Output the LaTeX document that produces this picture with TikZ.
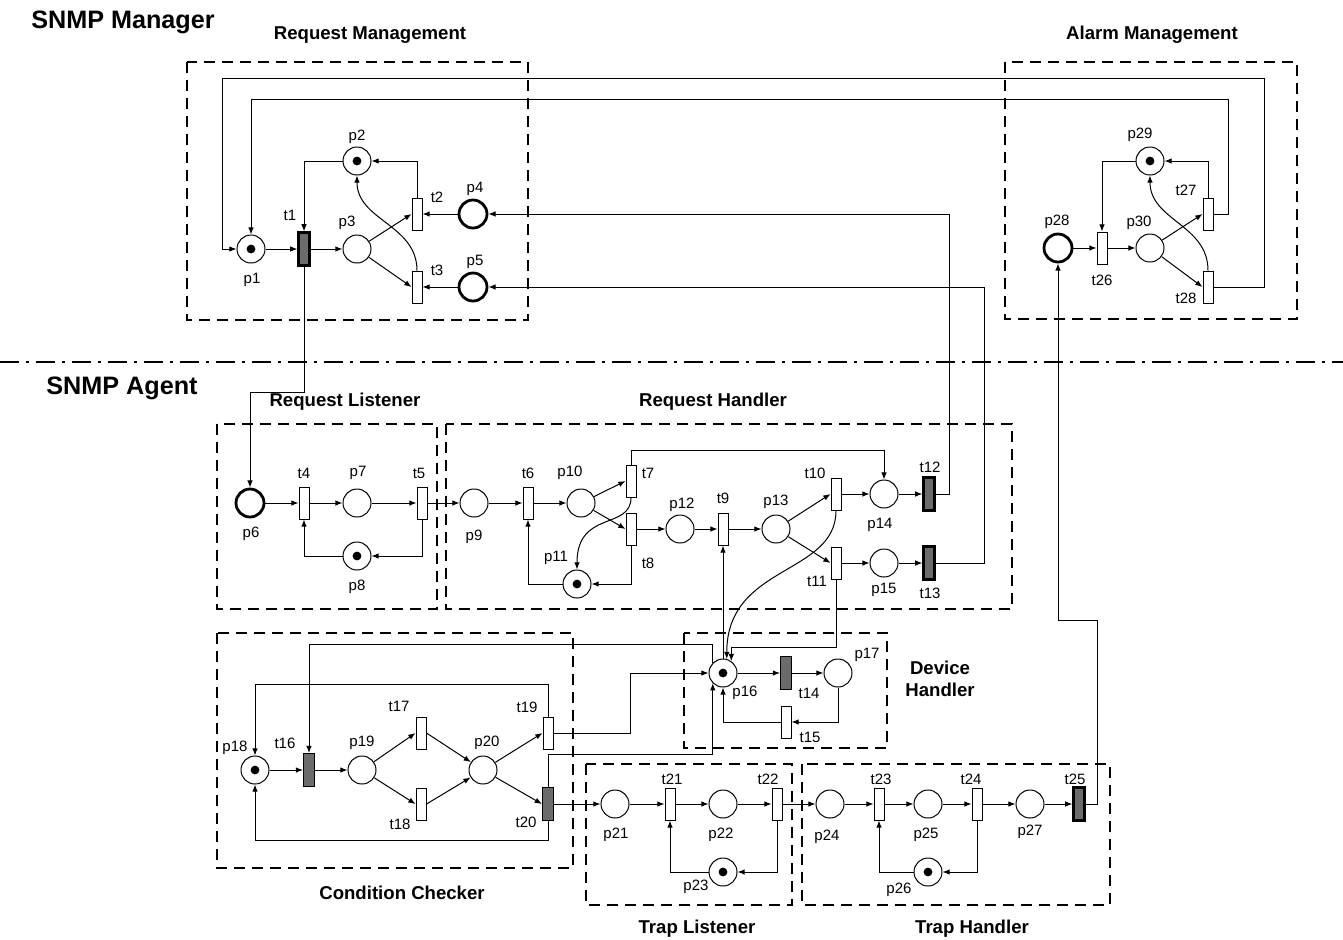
\documentclass[tikz,border=0pt]{standalone}
\usepackage{fontspec}
\setmainfont{Liberation Sans}
\usetikzlibrary{arrows.meta,positioning,calc}
\tikzset{
  pnplace/.style={draw, circle, minimum size=14pt, inner sep=0pt, line width=0.5pt, fill=white},
  pnin/.style={pnplace, line width=1.4pt},
  pnmarked/.style={pnplace, path picture={\fill[black] (path picture bounding box.center) circle (2.2pt);}},
  pntrans/.style={draw, rectangle, minimum width=5pt, minimum height=16pt, inner sep=0pt, line width=0.5pt, fill=white},
  pnfire/.style={pntrans, fill=black!58, minimum width=5.5pt, minimum height=16.5pt},
  pnsend/.style={pnfire, line width=1.1pt},
  pnlab/.style={inner sep=0pt, font=\fontsize{7.5}{8}\selectfont},
  pnsec/.style={inner sep=0pt, font=\fontsize{9.3}{11}\selectfont\bfseries, align=center},
  pnhead/.style={inner sep=0pt, font=\fontsize{12.6}{14}\selectfont\bfseries},
  pnarc/.style={-{Latex[length=3.6pt,width=2.8pt]}, line width=0.5pt},
  pnbox/.style={line width=1.4pt, dash pattern=on 5.5pt off 3.5pt},
  pnsep/.style={line width=1.2pt, dash pattern=on 9.5pt off 3.5pt on 1.5pt off 3.5pt}
}

\begin{document}
\begin{tikzpicture}[x=0.5pt, y=-0.5pt]
\useasboundingbox (0,0) rectangle (1343,939);

% headings and module frames
\node[pnhead] (mgr) at (123,22) {SNMP Manager};
\node[pnhead] (agt) at (122,388) {SNMP Agent};
\draw[pnsep] (0,362) -- (1343,362);
\node[pnsec] (reqmgmt) at (370,35) {Request Management};
\node[pnsec] (almmgmt) at (1152,35) {Alarm Management};
\node[pnsec] (reqlst) at (345,402) {Request Listener};
\node[pnsec] (reqhdl) at (713,402) {Request Handler};
\node[pnsec] (devhdl) at (940,679) {Device\\Handler};
\node[pnsec] (cndchk) at (402,893) {Condition Checker};
\node[pnsec] (trplst) at (697,929) {Trap Listener};
\node[pnsec] (trphdl) at (972,929) {Trap Handler};
\draw[pnbox] (187,62) rectangle (528,320);
\draw[pnbox] (1005,62) rectangle (1297,319);
\draw[pnbox] (217,424) rectangle (437,609);
\draw[pnbox] (446,424) rectangle (1012,609);
\draw[pnbox] (217,633) rectangle (573,868);
\draw[pnbox] (684,633) rectangle (887,748);
\draw[pnbox] (586,764) rectangle (792,905);
\draw[pnbox] (802,764) rectangle (1110,905);

% Request Management
\node[pnmarked] (p1) at (251,249) {};
\node[pnsend] (t1) at (304,249) {};
\node[pnmarked] (p2) at (357,161) {};
\node[pnplace] (p3) at (357,249) {};
\node[pntrans] (t2) at (417,214) {};
\node[pntrans] (t3) at (417,287) {};
\node[pnin] (p4) at (473,214) {};
\node[pnin] (p5) at (473,287) {};

% Alarm Management
\node[pnin] (p28) at (1058,248) {};
\node[pntrans] (t26) at (1102,248) {};
\node[pnplace] (p30) at (1150,248) {};
\node[pnmarked] (p29) at (1150,161) {};
\node[pntrans] (t27) at (1208,214) {};
\node[pntrans] (t28) at (1208,287) {};

% Request Listener
\node[pnin] (p6) at (250,503) {};
\node[pntrans] (t4) at (304,503) {};
\node[pnplace] (p7) at (357,503) {};
\node[pntrans] (t5) at (422,503) {};
\node[pnmarked] (p8) at (357,556) {};

% Request Handler
\node[pnplace] (p9) at (474,503) {};
\node[pntrans] (t6) at (528,503) {};
\node[pnplace] (p10) at (581,503) {};
\node[pntrans] (t7) at (631,481) {};
\node[pntrans] (t8) at (631,529) {};
\node[pnmarked] (p11) at (577,584) {};
\node[pnplace] (p12) at (680,529) {};
\node[pntrans] (t9) at (723,529) {};
\node[pnplace] (p13) at (776,529) {};
\node[pntrans] (t10) at (836,494) {};
\node[pnplace] (p14) at (884,494) {};
\node[pnsend] (t12) at (929,494) {};
\node[pntrans] (t11) at (836,563) {};
\node[pnplace] (p15) at (884,563) {};
\node[pnsend] (t13) at (929,563) {};

% Device Handler
\node[pnmarked] (p16) at (723,673) {};
\node[pnfire] (t14) at (786,673) {};
\node[pnplace] (p17) at (838,673) {};
\node[pntrans] (t15) at (786,722) {};

% Condition Checker
\node[pnmarked] (p18) at (255,770) {};
\node[pnfire] (t16) at (309,770) {};
\node[pnplace] (p19) at (362,770) {};
\node[pntrans] (t17) at (421,733) {};
\node[pntrans] (t18) at (421,804) {};
\node[pnplace] (p20) at (483,770) {};
\node[pntrans] (t19) at (548,733) {};
\node[pnfire] (t20) at (548,804) {};

% Trap Listener
\node[pnplace] (p21) at (615,804) {};
\node[pntrans] (t21) at (670,804) {};
\node[pnplace] (p22) at (723,804) {};
\node[pntrans] (t22) at (777,804) {};
\node[pnmarked] (p23) at (723,872) {};

% Trap Handler
\node[pnplace] (p24) at (830,804) {};
\node[pntrans] (t23) at (879,804) {};
\node[pnplace] (p25) at (928,804) {};
\node[pntrans] (t24) at (977,804) {};
\node[pnplace] (p27) at (1030,804) {};
\node[pnsend] (t25) at (1079,804) {};
\node[pnmarked] (p26) at (928,872) {};

% labels
\node[pnlab] (lp1) at (252,280) {p1};
\node[pnlab] (lt1) at (290,215) {t1};
\node[pnlab] (lp2) at (357,137) {p2};
\node[pnlab] (lp3) at (347,223) {p3};
\node[pnlab] (lt2) at (437,197) {t2};
\node[pnlab] (lp4) at (475,189) {p4};
\node[pnlab] (lt3) at (437,270) {t3};
\node[pnlab] (lp5) at (475,262) {p5};
\node[pnlab] (lp29) at (1140,135) {p29};
\node[pnlab] (lt27) at (1186,190) {t27};
\node[pnlab] (lp28) at (1057,222) {p28};
\node[pnlab] (lp30) at (1139,223) {p30};
\node[pnlab] (lt26) at (1102,280) {t26};
\node[pnlab] (lt28) at (1186,298) {t28};
\node[pnlab] (lt4) at (304,473) {t4};
\node[pnlab] (lp7) at (358,473) {p7};
\node[pnlab] (lt5) at (419,473) {t5};
\node[pnlab] (lp6) at (251,534) {p6};
\node[pnlab] (lp8) at (357,587) {p8};
\node[pnlab] (lp9) at (474,537) {p9};
\node[pnlab] (lt6) at (528,473) {t6};
\node[pnlab] (lp10) at (570,473) {p10};
\node[pnlab] (lt7) at (648,473) {t7};
\node[pnlab] (lp12) at (682,505) {p12};
\node[pnlab] (lt9) at (723,498) {t9};
\node[pnlab] (lp13) at (776,502) {p13};
\node[pnlab] (lt10) at (815,473) {t10};
\node[pnlab] (lt12) at (930,467) {t12};
\node[pnlab] (lp14) at (880,525) {p14};
\node[pnlab] (lp11) at (556,558) {p11};
\node[pnlab] (lt8) at (648,563) {t8};
\node[pnlab] (lt11) at (817,581) {t11};
\node[pnlab] (lp15) at (884,590) {p15};
\node[pnlab] (lt13) at (930,593) {t13};
\node[pnlab] (lp16) at (745,693) {p16};
\node[pnlab] (lt14) at (809,693) {t14};
\node[pnlab] (lp17) at (867,655) {p17};
\node[pnlab] (lt15) at (810,737) {t15};
\node[pnlab] (lp18) at (235,748) {p18};
\node[pnlab] (lt16) at (285,743) {t16};
\node[pnlab] (lp19) at (362,743) {p19};
\node[pnlab] (lt17) at (399,706) {t17};
\node[pnlab] (lp20) at (487,743) {p20};
\node[pnlab] (lt19) at (527,707) {t19};
\node[pnlab] (lt18) at (400,824) {t18};
\node[pnlab] (lt20) at (526,822) {t20};
\node[pnlab] (lt21) at (672,779) {t21};
\node[pnlab] (lt22) at (768,779) {t22};
\node[pnlab] (lp21) at (616,835) {p21};
\node[pnlab] (lp22) at (721,835) {p22};
\node[pnlab] (lp23) at (696,887) {p23};
\node[pnlab] (lt23) at (881,779) {t23};
\node[pnlab] (lt24) at (971,779) {t24};
\node[pnlab] (lt25) at (1075,779) {t25};
\node[pnlab] (lp24) at (827,837) {p24};
\node[pnlab] (lp25) at (926,835) {p25};
\node[pnlab] (lp27) at (1030,832) {p27};
\node[pnlab] (lp26) at (899,890) {p26};

% manager arcs
\draw[pnarc] (p1) -- (t1);
\draw[pnarc] (t1) -- (p3);
\draw[pnarc] (p3) -- (t2.west);
\draw[pnarc] (p3) -- (t3.west);
\draw[pnarc] (p4) -- (t2);
\draw[pnarc] (p5) -- (t3);
\draw[pnarc] (t2.north) |- (p2);
\draw[pnarc] (p2) -| (t1);
\draw[pnarc] (t3.north) .. controls +(0,-46) and +(0,45) .. (p2.south);
\draw[pnarc] (p28) -- (t26);
\draw[pnarc] (t26) -- (p30);
\draw[pnarc] (p30) -- (t27.west);
\draw[pnarc] (p30) -- (t28.west);
\draw[pnarc] (t27.north) |- (p29);
\draw[pnarc] (p29) -| (t26);
\draw[pnarc] (t28.north) .. controls +(0,-46) and +(0,45) .. (p29.south);
\draw[pnarc] (t27.east) -| (1228,99) -| (p1);
\draw[pnarc] (t28.east) -| (1264,78) -| (222,249) -- (p1);

% manager <-> agent
\draw[pnarc] (t1.south) -- ++(0,126) -| (p6);
\draw[pnarc] (t12.east) -| (949,214) -- (p4);
\draw[pnarc] (t13.east) -| (984,287) -- (p5);
\draw[pnarc] (t25.east) -| (1097,620) -| (p28);

% request listener and handler
\draw[pnarc] (p6) -- (t4);
\draw[pnarc] (t4) -- (p7);
\draw[pnarc] (p7) -- (t5);
\draw[pnarc] (t5) |- (p8);
\draw[pnarc] (p8) -| (t4);
\draw[pnarc] (t5) -- (p9);
\draw[pnarc] (p9) -- (t6);
\draw[pnarc] (t6) -- (p10);
\draw[pnarc] (p10) -- (t7.west);
\draw[pnarc] (p10) -- (t8.west);
\draw[pnarc] (t7.north) -- ++(0,-14) -| (p14);
\draw[pnarc] (t7.south) .. controls +(0,33) and +(0,-60) .. (p11.north);
\draw[pnarc] (t8) |- (p11);
\draw[pnarc] (p11) -| (t6);
\draw[pnarc] (t8) -- (p12);
\draw[pnarc] (p12) -- (t9);
\draw[pnarc] (t9) -- (p13);
\draw[pnarc] (p13) -- (t10.west);
\draw[pnarc] (p13) -- (t11.west);
\draw[pnarc] (t10) -- (p14);
\draw[pnarc] (t11) -- (p15);
\draw[pnarc] (p14) -- (t12);
\draw[pnarc] (p15) -- (t13);

% device handler
\draw[pnarc] (p16) -- (t9);
\draw[pnarc] (t10.south) .. controls +(0,65) and +(0,-95) .. (p16.75);
\draw[pnarc] (t11.south) -- ++(0,68) -| (p16.55);
\draw[pnarc] (p16) -- (t14);
\draw[pnarc] (t14) -- (p17);
\draw[pnarc] (p17) |- (t15);
\draw[pnarc] (t15) -| (p16);

% condition checker
\draw[pnarc] (p18) -- (t16);
\draw[pnarc] (t16) -- (p19);
\draw[pnarc] (p19) -- (t17.west);
\draw[pnarc] (p19) -- (t18.west);
\draw[pnarc] (t17.east) -- (p20);
\draw[pnarc] (t18.east) -- (p20);
\draw[pnarc] (p20) -- (t19.west);
\draw[pnarc] (p20) -- (t20.west);
\draw[pnarc] (t19.north) -- ++(0,-32) -| (p18);
\draw[pnarc] (t20.south) -- ++(0,19) -| (p18);
\draw[pnarc] (p16.135) -- ++(0,-18) -| (t16);
\draw[pnarc] (t19.east) -- ++(77,0) |- (p16);
\draw[pnarc] (t20.north) -- ++(0,-33) -| (p16.225);

% traps
\draw[pnarc] (t20) -- (p21);
\draw[pnarc] (p21) -- (t21);
\draw[pnarc] (t21) -- (p22);
\draw[pnarc] (p22) -- (t22);
\draw[pnarc] (t22) |- (p23);
\draw[pnarc] (p23) -| (t21);
\draw[pnarc] (t22) -- (p24);
\draw[pnarc] (p24) -- (t23);
\draw[pnarc] (t23) -- (p25);
\draw[pnarc] (p25) -- (t24);
\draw[pnarc] (t24) |- (p26);
\draw[pnarc] (p26) -| (t23);
\draw[pnarc] (t24) -- (p27);
\draw[pnarc] (p27) -- (t25);
\end{tikzpicture}
\end{document}
